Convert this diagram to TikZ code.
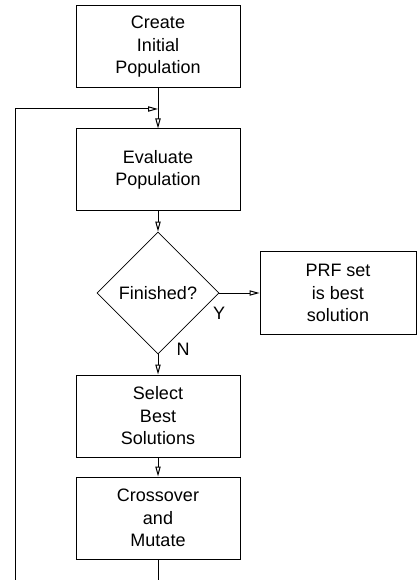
\documentclass[tikz,border=0pt]{standalone}
\usepackage{fontspec}
\setmainfont{Liberation Sans}
\usetikzlibrary{shapes.geometric,arrows.meta}
\tikzset{
  x=0.75pt, y=-0.75pt,
  every node/.style={font=\fontsize{13.5}{16.9}\selectfont, align=center, inner sep=0pt},
  procbox/.style={draw, line width=0.75pt, minimum width=123pt, minimum height=61.5pt},
  decision/.style={draw, diamond, aspect=1, line width=0.6pt, minimum width=91.5pt, minimum height=91.5pt},
  flow/.style={line width=0.75pt, -{Triangle[open, length=7.5pt, width=4pt]}},
  wire/.style={line width=0.75pt}
}
\begin{document}
\begin{tikzpicture}
\useasboundingbox (0,0) rectangle (417,580);
\clip (0,0) rectangle (417,580);

% process steps
\node[procbox] (create) at (158,47) {Create\\Initial\\Population};
\node[procbox] (eval)   at (158,170) {Evaluate\\Population};
\node[decision] (done)  at (158,293) {Finished?};
\node[procbox, minimum width=117pt] (prf) at (338,293) {PRF set\\is best\\solution};
\node[procbox] (select) at (158,416) {Select\\Best\\Solutions};
\node[procbox] (cross)  at (158,518) {Crossover\\and\\Mutate};

% loop junction and corners
\coordinate (join) at (158,109);
\coordinate (lowR) at (158,620);
\coordinate (lowL) at (15,620);
\coordinate (upL)  at (15,109);

% branch labels
\node (ylab) at (219,313) {Y};
\node (nlab) at (183,349) {N};

% connectors
\draw[flow] (create.south) -- (eval.north);
\draw[flow] (eval.south) -- (done.north);
\draw[flow] (done.east) -- (prf.west);
\draw[flow] (done.south) -- (select.north);
\draw[flow] (select.south) -- (cross.north);
\draw[flow] (cross.south) -- (lowR) -- (lowL) -- (upL) -- (join);
\end{tikzpicture}
\end{document}
